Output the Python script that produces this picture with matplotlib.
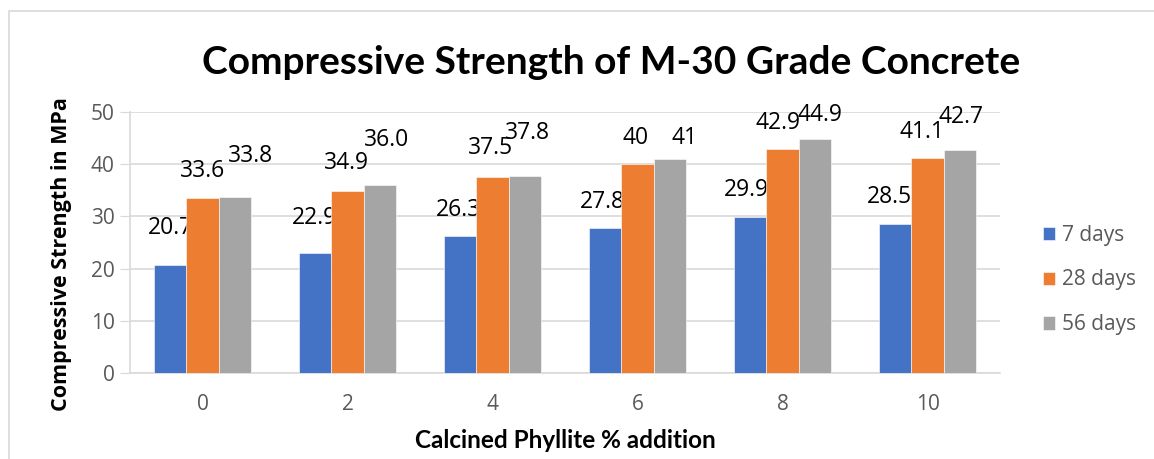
import numpy as np
import matplotlib.pyplot as plt
from matplotlib.patches import Rectangle

# Compressive strength (MPa) at each phyllite addition level
additions = ['0', '2', '4', '6', '8', '10']
series_names = ['7 days', '28 days', '56 days']
days7 = [20.7, 22.9, 26.3, 27.8, 29.9, 28.5]
days28 = [33.6, 34.9, 37.5, 40, 42.9, 41.1]
days56 = [33.8, 36.0, 37.8, 41, 44.9, 42.7]
label_text = [
    ['20.7', '22.9', '26.3', '27.8', '29.9', '28.5'],
    ['33.6', '34.9', '37.5', '40', '42.9', '41.1'],
    ['33.8', '36.0', '37.8', '41', '44.9', '42.7'],
]

colors = ['#4472C4', '#ED7D31', '#A5A5A5']
# label nudges in pixels (dx, dy above bar top), hand placed
nudges = [
    [(0, 37), (-1, 35), (-2, 26), (-3, 26), (-4, 27), (-6, 27)],
    [(0, 27), (-1, 28), (-2, 29), (-2, 26), (-5, 26), (-6, 26)],
    [(16, 41), (7, 45), (2, 43), (15, 21), (5, 24), (1, 33)],
]

fig = plt.figure(figsize=(11.54, 4.59), dpi=100)
ax = fig.add_axes([130/1154, 1-373/459, 870/1154, 261/459])

# chart frame
fig.patches.append(Rectangle((9/1154, -0.1), 1.2, 1-11/459+0.1, transform=fig.transFigure,
                             fill=False, edgecolor='#d9d9d9', linewidth=1.2))

x = np.arange(len(additions))
w = 0.224
for k, vals in enumerate([days7, days28, days56]):
    bars = ax.bar(x + (k-1)*w, vals, w, color=colors[k], edgecolor='white',
                  linewidth=0.4, label=series_names[k], zorder=3)
    for i, b in enumerate(bars):
        dx, dy = nudges[k][i]
        ax.annotate(label_text[k][i], (b.get_x() + b.get_width()/2, vals[i]),
                    xytext=(dx, dy), textcoords='offset pixels',
                    ha='center', va='center', fontsize=16.5, color='black',
                    family='Open Sans')

ax.set_xlim(-0.5, 5.5)
ax.set_ylim(0, 50)
ax.set_yticks(range(0, 51, 10))
ax.set_xticks(x)
ax.set_xticklabels(additions)
ax.yaxis.grid(True, color='#d9d9d9', linewidth=1.2, zorder=0)
ax.set_axisbelow(True)
for s in ['top', 'right']:
    ax.spines[s].set_visible(False)
ax.spines['left'].set_color('#d9d9d9')
ax.spines['bottom'].set_color('#d9d9d9')
ax.spines['left'].set_linewidth(1.2)
ax.spines['bottom'].set_linewidth(1.2)
ax.tick_params(axis='y', length=7, color='#d9d9d9', labelsize=15, labelcolor='#595959', pad=4)
ax.tick_params(axis='x', length=0, labelsize=15, labelcolor='#595959', pad=15)
for t in ax.get_xticklabels() + ax.get_yticklabels():
    t.set_family('Open Sans')

fig.text(611/1154, 1-62/459, 'Compressive Strength of M-30 Grade Concrete',
         ha='center', va='center', fontsize=28, fontweight='bold', family='Lato')
fig.text(565/1154, 1-441/459, 'Calcined Phyllite % addition',
         ha='center', va='center', fontsize=17.5, fontweight='bold', family='Lato')
fig.text(62/1154, 1-254/459, 'Compressive Strength in MPa', rotation=90,
         ha='center', va='center', fontsize=15.5, fontweight='bold', family='Open Sans')

leg = fig.legend(loc='center left', bbox_to_anchor=(1024/1154, 1-280/459), frameon=False,
                 prop={'family': 'Open Sans', 'size': 15}, handlelength=0.6,
                 handleheight=0.6, handletextpad=0.3, labelspacing=1.15)
for t in leg.get_texts():
    t.set_color('#595959')

fig.savefig('out.png', dpi=100)
